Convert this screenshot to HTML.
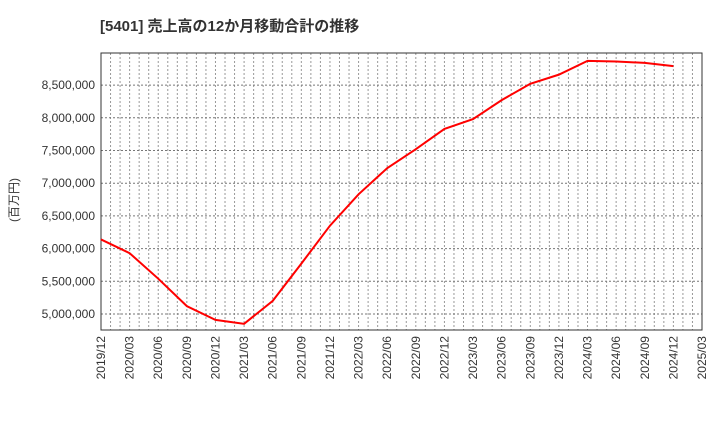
<!DOCTYPE html>
<html><head><meta charset="utf-8"><style>
body{margin:0;background:#fff;font-family:"Liberation Sans","Noto Sans CJK JP",sans-serif;}
</style></head><body>
<svg id="c" width="720" height="440" xmlns="http://www.w3.org/2000/svg">
<text x="100" y="31" font-size="15" font-weight="bold" fill="#333" font-family="Liberation Sans, Noto Sans CJK JP, sans-serif">[5401]  売上高の12か月移動合計の推移</text>
<text transform="translate(18,200) rotate(-90)" text-anchor="middle" font-size="12" fill="#333" font-family="Liberation Sans, Noto Sans CJK JP, sans-serif">(百万円)</text>
<g id="grid"></g><g id="axes"></g><g id="series"></g>
</svg>
<script>
const xLabels=["2019/12","2020/03","2020/06","2020/09","2020/12","2021/03","2021/06","2021/09","2021/12","2022/03","2022/06","2022/09","2022/12","2023/03","2023/06","2023/09","2023/12","2024/03","2024/06","2024/09","2024/12","2025/03"];
const values=[6140000,5930000,5540000,5120000,4910000,4850000,5200000,5770000,6350000,6830000,7230000,7520000,7830000,7980000,8270000,8520000,8660000,8870000,8860000,8840000,8790000];
const yTicks=[5000000,5500000,6000000,6500000,7000000,7500000,8000000,8500000];
const L=101,R=702,T=53,B=330;
const y=v=>314-(v-5000000)/500000*32.7;
const x=i=>L+i*(R-L)/(xLabels.length-1);
const ns="http://www.w3.org/2000/svg";
function mk(tag,attrs,parent){const e=document.createElementNS(ns,tag);for(const k in attrs)e.setAttribute(k,attrs[k]);document.getElementById(parent).appendChild(e);return e;}
for(let m=1;m<(xLabels.length-1)*3;m++){const xx=L+m*(R-L)/((xLabels.length-1)*3);
const g=mk('line',{x1:xx,x2:xx,y1:T,y2:B,stroke:'#999','stroke-dasharray':'2,2','stroke-width':1},'grid');

}
yTicks.forEach(v=>{const g=mk('line',{x1:L,x2:R,y1:y(v),y2:y(v),stroke:'#777','stroke-dasharray':'2,2','stroke-width':1},'grid');


const t=mk('text',{x:L-6,y:y(v)+4,'text-anchor':'end','font-size':12,fill:'#333'},'axes');t.textContent=v.toLocaleString('en-US');

});
xLabels.forEach((s,i)=>{const t=mk('text',{transform:`translate(${x(i)+4},${B+6}) rotate(-90)`,'text-anchor':'end','font-size':12,fill:'#333'},'axes');t.textContent=s;

});
const f=mk('rect',{x:L,y:T,width:R-L,height:B-T,fill:'none',stroke:'#333','stroke-width':1},'axes');


const p=mk('polyline',{points:values.map((v,i)=>x(i)+','+y(v)).join(' '),fill:'none',stroke:'#f00','stroke-width':2},'series');


</script>
</body></html>
